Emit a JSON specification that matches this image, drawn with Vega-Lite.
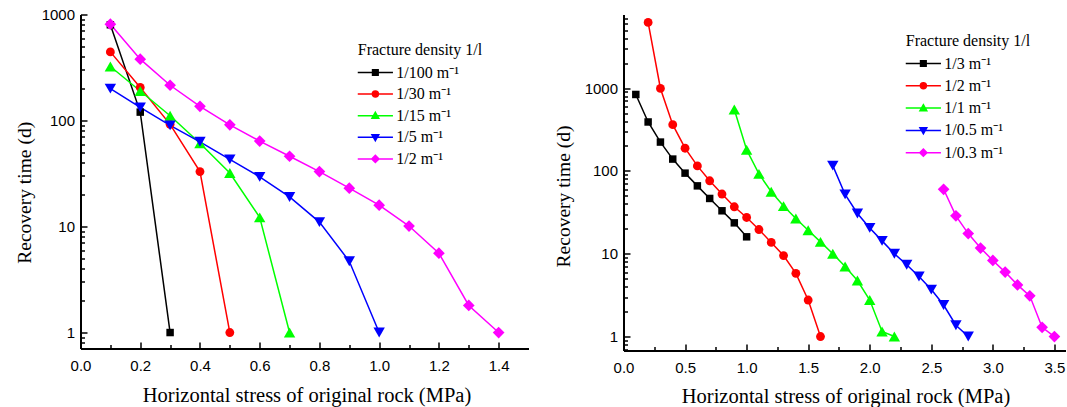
{
  "$schema": "https://vega.github.io/schema/vega-lite/v6.json",
  "background": "white",
  "padding": {"left": 13.5, "top": 7.5, "right": 0, "bottom": 0},
  "spacing": 25,
  "config": {
    "view": {"stroke": null},
    "axis": {"grid": false, "labelFlush": false, "labelOverlap": false, "domainColor": "black", "tickColor": "black", "labelColor": "black", "titleColor": "black"},
    "legend": {"orient": "none", "padding": 0, "titleFont": "Liberation Serif", "titleFontSize": 16, "titleFontWeight": "normal", "titleColor": "black", "labelFont": "Liberation Serif", "labelFontSize": 16, "labelColor": "black", "titleLimit": 300, "symbolOpacity": 1, "symbolStrokeWidth": 1.5, "symbolSize": 64, "titlePadding": 7}
  },
  "datasets": {
    "left": [
      {"x": 0.1, "t": 800, "d": "1/100 m⁻¹"}, {"x": 0.2, "t": 120, "d": "1/100 m⁻¹"}, {"x": 0.3, "t": 1, "d": "1/100 m⁻¹"},
      {"x": 0.1, "t": 444, "d": "1/30 m⁻¹"}, {"x": 0.2, "t": 205, "d": "1/30 m⁻¹"}, {"x": 0.3, "t": 92, "d": "1/30 m⁻¹"}, {"x": 0.4, "t": 33, "d": "1/30 m⁻¹"}, {"x": 0.5, "t": 1, "d": "1/30 m⁻¹"},
      {"x": 0.1, "t": 323, "d": "1/15 m⁻¹"}, {"x": 0.2, "t": 190, "d": "1/15 m⁻¹"}, {"x": 0.3, "t": 111, "d": "1/15 m⁻¹"}, {"x": 0.4, "t": 61, "d": "1/15 m⁻¹"}, {"x": 0.5, "t": 32, "d": "1/15 m⁻¹"}, {"x": 0.6, "t": 12.2, "d": "1/15 m⁻¹"}, {"x": 0.7, "t": 1, "d": "1/15 m⁻¹"},
      {"x": 0.1, "t": 200, "d": "1/5 m⁻¹"}, {"x": 0.2, "t": 133, "d": "1/5 m⁻¹"}, {"x": 0.3, "t": 90, "d": "1/5 m⁻¹"}, {"x": 0.4, "t": 63, "d": "1/5 m⁻¹"}, {"x": 0.5, "t": 43, "d": "1/5 m⁻¹"}, {"x": 0.6, "t": 29.4, "d": "1/5 m⁻¹"}, {"x": 0.7, "t": 19, "d": "1/5 m⁻¹"}, {"x": 0.8, "t": 11, "d": "1/5 m⁻¹"}, {"x": 0.9, "t": 4.7, "d": "1/5 m⁻¹"}, {"x": 1.0, "t": 1, "d": "1/5 m⁻¹"},
      {"x": 0.1, "t": 811, "d": "1/2 m⁻¹"}, {"x": 0.2, "t": 379, "d": "1/2 m⁻¹"}, {"x": 0.3, "t": 215, "d": "1/2 m⁻¹"}, {"x": 0.4, "t": 136, "d": "1/2 m⁻¹"}, {"x": 0.5, "t": 91, "d": "1/2 m⁻¹"}, {"x": 0.6, "t": 64, "d": "1/2 m⁻¹"}, {"x": 0.7, "t": 46, "d": "1/2 m⁻¹"}, {"x": 0.8, "t": 33, "d": "1/2 m⁻¹"}, {"x": 0.9, "t": 23, "d": "1/2 m⁻¹"}, {"x": 1.0, "t": 15.9, "d": "1/2 m⁻¹"}, {"x": 1.1, "t": 10.1, "d": "1/2 m⁻¹"}, {"x": 1.2, "t": 5.6, "d": "1/2 m⁻¹"}, {"x": 1.3, "t": 1.8, "d": "1/2 m⁻¹"}, {"x": 1.4, "t": 1, "d": "1/2 m⁻¹"}
    ],
    "right": [
      {"x": 0.1, "t": 838, "d": "1/3 m⁻¹"}, {"x": 0.2, "t": 390, "d": "1/3 m⁻¹"}, {"x": 0.3, "t": 223, "d": "1/3 m⁻¹"}, {"x": 0.4, "t": 139, "d": "1/3 m⁻¹"}, {"x": 0.5, "t": 94, "d": "1/3 m⁻¹"}, {"x": 0.6, "t": 66, "d": "1/3 m⁻¹"}, {"x": 0.7, "t": 46.5, "d": "1/3 m⁻¹"}, {"x": 0.8, "t": 33, "d": "1/3 m⁻¹"}, {"x": 0.9, "t": 23.6, "d": "1/3 m⁻¹"}, {"x": 1.0, "t": 16, "d": "1/3 m⁻¹"},
      {"x": 0.2, "t": 6220, "d": "1/2 m⁻¹"}, {"x": 0.3, "t": 991, "d": "1/2 m⁻¹"}, {"x": 0.4, "t": 362, "d": "1/2 m⁻¹"}, {"x": 0.5, "t": 188, "d": "1/2 m⁻¹"}, {"x": 0.6, "t": 115, "d": "1/2 m⁻¹"}, {"x": 0.7, "t": 76, "d": "1/2 m⁻¹"}, {"x": 0.8, "t": 52.6, "d": "1/2 m⁻¹"}, {"x": 0.9, "t": 36.9, "d": "1/2 m⁻¹"}, {"x": 1.0, "t": 27.4, "d": "1/2 m⁻¹"}, {"x": 1.1, "t": 19.6, "d": "1/2 m⁻¹"}, {"x": 1.2, "t": 13.7, "d": "1/2 m⁻¹"}, {"x": 1.3, "t": 9.5, "d": "1/2 m⁻¹"}, {"x": 1.4, "t": 5.8, "d": "1/2 m⁻¹"}, {"x": 1.5, "t": 2.76, "d": "1/2 m⁻¹"}, {"x": 1.6, "t": 1, "d": "1/2 m⁻¹"},
      {"x": 0.9, "t": 551, "d": "1/1 m⁻¹"}, {"x": 1.0, "t": 180, "d": "1/1 m⁻¹"}, {"x": 1.1, "t": 92, "d": "1/1 m⁻¹"}, {"x": 1.2, "t": 56, "d": "1/1 m⁻¹"}, {"x": 1.3, "t": 37.6, "d": "1/1 m⁻¹"}, {"x": 1.4, "t": 26.6, "d": "1/1 m⁻¹"}, {"x": 1.5, "t": 19.2, "d": "1/1 m⁻¹"}, {"x": 1.6, "t": 13.9, "d": "1/1 m⁻¹"}, {"x": 1.7, "t": 10, "d": "1/1 m⁻¹"}, {"x": 1.8, "t": 7.0, "d": "1/1 m⁻¹"}, {"x": 1.9, "t": 4.75, "d": "1/1 m⁻¹"}, {"x": 2.0, "t": 2.76, "d": "1/1 m⁻¹"}, {"x": 2.1, "t": 1.15, "d": "1/1 m⁻¹"}, {"x": 2.2, "t": 1, "d": "1/1 m⁻¹"},
      {"x": 1.7, "t": 116, "d": "1/0.5 m⁻¹"}, {"x": 1.8, "t": 52, "d": "1/0.5 m⁻¹"}, {"x": 1.9, "t": 30.6, "d": "1/0.5 m⁻¹"}, {"x": 2.0, "t": 20.5, "d": "1/0.5 m⁻¹"}, {"x": 2.1, "t": 14.3, "d": "1/0.5 m⁻¹"}, {"x": 2.2, "t": 10, "d": "1/0.5 m⁻¹"}, {"x": 2.3, "t": 7.35, "d": "1/0.5 m⁻¹"}, {"x": 2.4, "t": 5.3, "d": "1/0.5 m⁻¹"}, {"x": 2.5, "t": 3.69, "d": "1/0.5 m⁻¹"}, {"x": 2.6, "t": 2.4, "d": "1/0.5 m⁻¹"}, {"x": 2.7, "t": 1.37, "d": "1/0.5 m⁻¹"}, {"x": 2.8, "t": 1, "d": "1/0.5 m⁻¹"},
      {"x": 2.6, "t": 60, "d": "1/0.3 m⁻¹"}, {"x": 2.7, "t": 28.7, "d": "1/0.3 m⁻¹"}, {"x": 2.8, "t": 17.5, "d": "1/0.3 m⁻¹"}, {"x": 2.9, "t": 11.7, "d": "1/0.3 m⁻¹"}, {"x": 3.0, "t": 8.3, "d": "1/0.3 m⁻¹"}, {"x": 3.1, "t": 6.0, "d": "1/0.3 m⁻¹"}, {"x": 3.2, "t": 4.2, "d": "1/0.3 m⁻¹"}, {"x": 3.3, "t": 3.1, "d": "1/0.3 m⁻¹"}, {"x": 3.4, "t": 1.29, "d": "1/0.3 m⁻¹"}, {"x": 3.5, "t": 1, "d": "1/0.3 m⁻¹"}
    ]
  },
  "hconcat": [
    {
      "width": 448,
      "height": 334,
      "data": {"name": "left"},
      "layer": [
        {
          "mark": {"type": "line", "strokeWidth": 1.5},
          "encoding": {
            "x": {"field": "x", "type": "quantitative", "scale": {"domain": [0, 1.5], "nice": false, "zero": false},
              "axis": {"values": [0, 0.2, 0.4, 0.6, 0.8, 1.0, 1.2, 1.4], "format": ".1f", "tickSize": -6.5, "tickWidth": 1.5, "domainWidth": 2, "labelPadding": 16, "labelFont": "Liberation Sans", "labelFontSize": 15,
                "title": "Horizontal stress of original rock (MPa)", "titleFont": "Liberation Serif", "titleFontSize": 20.5, "titleFontWeight": "normal", "titleBaseline": "alphabetic", "titleY": 53, "titleX": 226}},
            "y": {"field": "t", "type": "quantitative", "scale": {"type": "log", "domain": [0.707, 1000], "nice": false},
              "axis": {"values": [1, 10, 100, 1000], "format": "d", "tickSize": -6.5, "tickWidth": 1.5, "domainWidth": 2, "labelPadding": 12.5, "labelFont": "Liberation Sans", "labelFontSize": 15,
                "title": "Recovery time (d)", "titleFont": "Liberation Serif", "titleFontSize": 19.5, "titleFontWeight": "normal", "titleBaseline": "middle", "titleX": -56.3, "titleY": 177.8}},
            "color": {"field": "d", "type": "nominal",
              "scale": {"domain": ["1/100 m⁻¹", "1/30 m⁻¹", "1/15 m⁻¹", "1/5 m⁻¹", "1/2 m⁻¹"], "range": ["#000000", "#FF0000", "#00FF00", "#0000FF", "#FF00FF"]},
              "legend": null}
          }
        },
        {
          "mark": {"type": "point", "filled": true, "opacity": 1, "strokeWidth": 0},
          "encoding": {
            "x": {"field": "x", "type": "quantitative", "axis": {"orient": "bottom", "values": [0.1, 0.3, 0.5, 0.7, 0.9, 1.1, 1.3], "tickSize": -4, "tickWidth": 1.5, "labels": false, "domain": false, "title": null}},
            "y": {"field": "t", "type": "quantitative", "axis": {"orient": "left", "values": [0.8, 0.9, 2, 3, 4, 5, 6, 7, 8, 9, 20, 30, 40, 50, 60, 70, 80, 90, 200, 300, 400, 500, 600, 700, 800, 900], "tickSize": -4, "tickWidth": 1.5, "labels": false, "domain": false, "title": null}},
            "color": {"field": "d", "type": "nominal",
              "scale": {"domain": ["1/100 m⁻¹", "1/30 m⁻¹", "1/15 m⁻¹", "1/5 m⁻¹", "1/2 m⁻¹"], "range": ["#000000", "#FF0000", "#00FF00", "#0000FF", "#FF00FF"]},
              "legend": null},
            "shape": {"field": "d", "type": "nominal",
              "scale": {"domain": ["1/100 m⁻¹", "1/30 m⁻¹", "1/15 m⁻¹", "1/5 m⁻¹", "1/2 m⁻¹"], "range": ["square", "circle", "triangle-up", "triangle-down", "diamond"]},
              "legend": null},
            "size": {"field": "d", "type": "nominal",
              "scale": {"type": "ordinal", "domain": ["1/100 m⁻¹", "1/30 m⁻¹", "1/15 m⁻¹", "1/5 m⁻¹", "1/2 m⁻¹"], "range": [56, 78, 130, 130, 137]}, "legend": null}
          }
        },
        {
          "mark": {"type": "point", "filled": true, "opacity": 0, "strokeWidth": 1.5, "size": 64},
          "encoding": {
            "x": {"field": "x", "type": "quantitative", "axis": null},
            "y": {"field": "t", "type": "quantitative", "axis": null},
            "color": {"field": "d", "type": "nominal",
              "scale": {"domain": ["1/100 m⁻¹", "1/30 m⁻¹", "1/15 m⁻¹", "1/5 m⁻¹", "1/2 m⁻¹"], "range": ["#000000", "#FF0000", "#00FF00", "#0000FF", "#FF00FF"]},
              "legend": {"title": "Fracture density 1/l", "legendX": 277.25, "legendY": 27, "labelOffset": 22.5, "rowPadding": 5.6}},
            "stroke": {"field": "d", "type": "nominal",
              "scale": {"domain": ["1/100 m⁻¹", "1/30 m⁻¹", "1/15 m⁻¹", "1/5 m⁻¹", "1/2 m⁻¹"], "range": ["#000000", "#FF0000", "#00FF00", "#0000FF", "#FF00FF"]},
              "legend": {"title": "Fracture density 1/l", "legendX": 277.25, "legendY": 27, "labelOffset": 22.5, "rowPadding": 5.6}},
            "shape": {"field": "d", "type": "nominal",
              "scale": {"domain": ["1/100 m⁻¹", "1/30 m⁻¹", "1/15 m⁻¹", "1/5 m⁻¹", "1/2 m⁻¹"],
                "range": ["M-2,0H6.8M1.7,-0.7H3.1V0.7H1.7Z", "M-2,0H6.8M3.15,0A0.75,0.75,0,1,1,1.65,0A0.75,0.75,0,1,1,3.15,0Z", "M-2,0H6.8M2.4,-0.85L3.25,0.65L1.55,0.65Z", "M-2,0H6.8M2.4,0.85L3.25,-0.65L1.55,-0.65Z", "M-2,0H6.8M2.4,-0.9L3.3,0L2.4,0.9L1.5,0Z"]},
              "legend": {"title": "Fracture density 1/l", "legendX": 277.25, "legendY": 27, "labelOffset": 22.5, "rowPadding": 5.6}}
          }
        }
      ],
      "resolve": {
        "axis": {"x": "independent", "y": "independent"},
        "scale": {"shape": "independent", "color": "independent", "stroke": "independent"},
        "legend": {"shape": "independent", "color": "independent", "stroke": "independent"}
      }
    },
    {
      "width": 442,
      "height": 336,
      "data": {"name": "right"},
      "layer": [
        {
          "mark": {"type": "line", "strokeWidth": 1.5},
          "encoding": {
            "x": {"field": "x", "type": "quantitative", "scale": {"domain": [0, 3.59], "nice": false, "zero": false},
              "axis": {"values": [0, 0.5, 1.0, 1.5, 2.0, 2.5, 3.0, 3.5], "format": ".1f", "tickSize": -6.5, "tickWidth": 1.5, "domainWidth": 2, "labelPadding": 16, "labelFont": "Liberation Sans", "labelFontSize": 15,
                "title": "Horizontal stress of original rock (MPa)", "titleFont": "Liberation Serif", "titleFontSize": 20.5, "titleFontWeight": "normal", "titleBaseline": "alphabetic", "titleY": 52, "titleX": 222}},
            "y": {"field": "t", "type": "quantitative", "scale": {"type": "log", "domain": [0.678, 7745], "nice": false},
              "axis": {"values": [1, 10, 100, 1000], "format": "d", "tickSize": -6.5, "tickWidth": 1.5, "domainWidth": 2, "labelPadding": 12.5, "labelFont": "Liberation Sans", "labelFontSize": 15,
                "title": "Recovery time (d)", "titleFont": "Liberation Serif", "titleFontSize": 19.5, "titleFontWeight": "normal", "titleBaseline": "middle", "titleX": -60, "titleY": 181.5}},
            "color": {"field": "d", "type": "nominal",
              "scale": {"domain": ["1/3 m⁻¹", "1/2 m⁻¹", "1/1 m⁻¹", "1/0.5 m⁻¹", "1/0.3 m⁻¹"], "range": ["#000000", "#FF0000", "#00FF00", "#0000FF", "#FF00FF"]},
              "legend": null}
          }
        },
        {
          "mark": {"type": "point", "filled": true, "opacity": 1, "strokeWidth": 0},
          "encoding": {
            "x": {"field": "x", "type": "quantitative", "axis": {"orient": "bottom", "values": [0.25, 0.75, 1.25, 1.75, 2.25, 2.75, 3.25], "tickSize": -4, "tickWidth": 1.5, "labels": false, "domain": false, "title": null}},
            "y": {"field": "t", "type": "quantitative", "axis": {"orient": "left", "values": [0.7, 0.8, 0.9, 2, 3, 4, 5, 6, 7, 8, 9, 20, 30, 40, 50, 60, 70, 80, 90, 200, 300, 400, 500, 600, 700, 800, 900, 2000, 3000, 4000, 5000, 6000, 7000], "tickSize": -4, "tickWidth": 1.5, "labels": false, "domain": false, "title": null}},
            "color": {"field": "d", "type": "nominal",
              "scale": {"domain": ["1/3 m⁻¹", "1/2 m⁻¹", "1/1 m⁻¹", "1/0.5 m⁻¹", "1/0.3 m⁻¹"], "range": ["#000000", "#FF0000", "#00FF00", "#0000FF", "#FF00FF"]},
              "legend": null},
            "shape": {"field": "d", "type": "nominal",
              "scale": {"domain": ["1/3 m⁻¹", "1/2 m⁻¹", "1/1 m⁻¹", "1/0.5 m⁻¹", "1/0.3 m⁻¹"], "range": ["square", "circle", "triangle-up", "triangle-down", "diamond"]},
              "legend": null},
            "size": {"field": "d", "type": "nominal",
              "scale": {"type": "ordinal", "domain": ["1/3 m⁻¹", "1/2 m⁻¹", "1/1 m⁻¹", "1/0.5 m⁻¹", "1/0.3 m⁻¹"], "range": [56, 78, 130, 130, 137]}, "legend": null}
          }
        },
        {
          "mark": {"type": "point", "filled": true, "opacity": 0, "strokeWidth": 1.5, "size": 64},
          "encoding": {
            "x": {"field": "x", "type": "quantitative", "axis": null},
            "y": {"field": "t", "type": "quantitative", "axis": null},
            "color": {"field": "d", "type": "nominal",
              "scale": {"domain": ["1/3 m⁻¹", "1/2 m⁻¹", "1/1 m⁻¹", "1/0.5 m⁻¹", "1/0.3 m⁻¹"], "range": ["#000000", "#FF0000", "#00FF00", "#0000FF", "#FF00FF"]},
              "legend": {"title": "Fracture density 1/l", "legendX": 282.25, "legendY": 18, "labelOffset": 22.5, "rowPadding": 6.3}},
            "stroke": {"field": "d", "type": "nominal",
              "scale": {"domain": ["1/3 m⁻¹", "1/2 m⁻¹", "1/1 m⁻¹", "1/0.5 m⁻¹", "1/0.3 m⁻¹"], "range": ["#000000", "#FF0000", "#00FF00", "#0000FF", "#FF00FF"]},
              "legend": {"title": "Fracture density 1/l", "legendX": 282.25, "legendY": 18, "labelOffset": 22.5, "rowPadding": 6.3}},
            "shape": {"field": "d", "type": "nominal",
              "scale": {"domain": ["1/3 m⁻¹", "1/2 m⁻¹", "1/1 m⁻¹", "1/0.5 m⁻¹", "1/0.3 m⁻¹"],
                "range": ["M-2,0H6.8M1.7,-0.7H3.1V0.7H1.7Z", "M-2,0H6.8M3.15,0A0.75,0.75,0,1,1,1.65,0A0.75,0.75,0,1,1,3.15,0Z", "M-2,0H6.8M2.4,-0.85L3.25,0.65L1.55,0.65Z", "M-2,0H6.8M2.4,0.85L3.25,-0.65L1.55,-0.65Z", "M-2,0H6.8M2.4,-0.9L3.3,0L2.4,0.9L1.5,0Z"]},
              "legend": {"title": "Fracture density 1/l", "legendX": 282.25, "legendY": 18, "labelOffset": 22.5, "rowPadding": 6.3}}
          }
        }
      ],
      "resolve": {
        "axis": {"x": "independent", "y": "independent"},
        "scale": {"shape": "independent", "color": "independent", "stroke": "independent"},
        "legend": {"shape": "independent", "color": "independent", "stroke": "independent"}
      }
    }
  ],
  "resolve": {
    "scale": {"x": "independent", "y": "independent", "color": "independent", "shape": "independent", "size": "independent", "stroke": "independent"},
    "axis": {"x": "independent", "y": "independent"},
    "legend": {"color": "independent", "shape": "independent", "size": "independent", "stroke": "independent"}
  }
}
